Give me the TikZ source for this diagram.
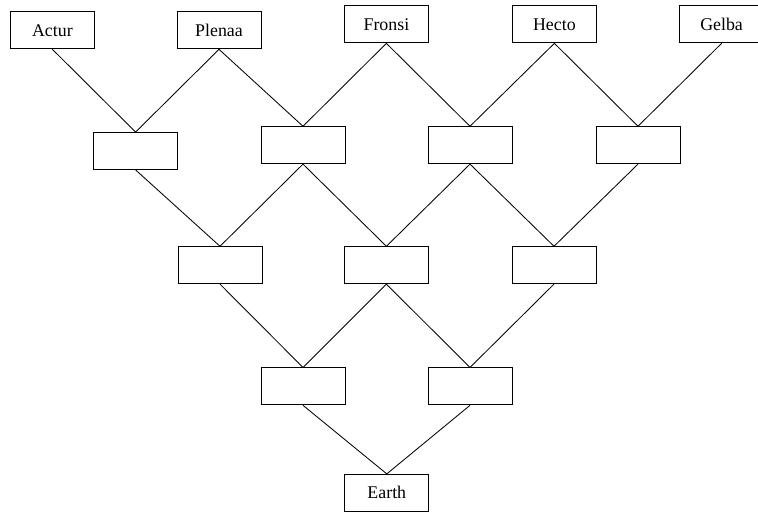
\documentclass[tikz,border=0pt]{standalone}
\usepackage{fontspec}
\setmainfont{Liberation Serif}
\usetikzlibrary{shapes,arrows}
\tikzstyle{r} = [rectangle, minimum width=2.1cm, minimum height=0.925cm, text centered, draw=black]

\begin{document}
\begin{tikzpicture}[line width=0.6pt, font=\fontsize{12.7}{15}\selectfont]
			\useasboundingbox (0,0) rectangle (18.95,-12.775);
			\node[r](1) at (1.31,-0.76){Actur};
			\node[r](2) at (5.475,-0.76){Plenaa};
			\node[r](3) at (9.66,-0.61){Fronsi};
			\node[r](4) at (13.86,-0.61){Hecto};
			\node[r](5) at (18.04,-0.61){Gelba};
			\node[r](6) at (3.39,-3.775){};
			\node[r](7) at (7.575,-3.63){};
			\node[r](8) at (11.75,-3.63){};
			\node[r](9) at (15.95,-3.63){};
			\node[r](10) at (5.5,-6.63){};
			\node[r](11) at (9.66,-6.63){};
			\node[r](12) at (13.85,-6.63){};
			\node[r](13) at (7.575,-9.66){};
			\node[r](14) at (11.75,-9.66){};
			\node[r](15) at (9.67,-12.32){Earth};
			
			\draw (1.south)--(6.north)--(2.south);
			\draw (2.south)--(7.north)--(3.south);
			\draw (3.south)--(8.north)--(4.south);
			\draw (4.south)--(9.north)--(5.south);
			\draw (6.south)--(10.north)--(7.south);
			\draw (7.south)--(11.north)--(8.south);
			\draw (8.south)--(12.north)--(9.south);
			\draw (10.south)--(13.north)--(11.south);
			\draw (11.south)--(14.north)--(12.south);
			\draw (13.south)--(15.north)--(14.south);
			\end{tikzpicture}
\end{document}
